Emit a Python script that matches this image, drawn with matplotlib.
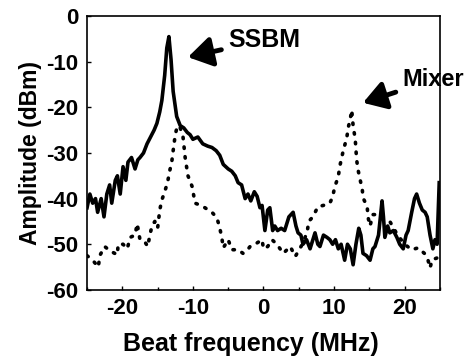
import matplotlib
matplotlib.use("Agg")
import matplotlib.pyplot as plt
from matplotlib.ticker import MultipleLocator

# ---- data ----
ssbm_f = [-25, -24.6, -24.2, -23.8, -23.5, -23.0, -22.6, -22.2, -21.8, -21.5, -21.0, -20.7,
          -20.3, -19.9, -19.5, -19.2, -18.7, -18.2, -17.8, -17.5, -17.0, -16.5, -16.0, -15.5,
          -15.1, -14.7, -14.4, -14.0, -13.7, -13.4, -13.1, -12.8, -12.3, -11.8, -11.3, -10.8,
          -10.4, -10.0, -9.3, -8.6, -7.9, -7.3, -6.7, -6.2, -5.7, -5.0, -4.5, -4.0, -3.6, -3.1,
          -2.6, -2.2, -1.8, -1.3, -0.9, -0.5, -0.2, 0.2, 0.6, 0.9, 1.3, 1.6, 2.0, 2.5, 3.0, 3.6,
          4.2, 4.6, 4.9, 5.3, 5.6, 6.1, 6.6, 7.0, 7.3, 7.7, 8.0, 8.5, 9.0, 9.4, 9.8, 10.2, 10.6,
          11.0, 11.5, 11.9, 12.3, 12.7, 13.1, 13.5, 13.8, 14.1, 14.6, 15.1, 15.5, 15.8, 16.3,
          16.8, 17.0, 17.2, 17.6, 17.9, 18.4, 18.9, 19.3, 19.8, 20.2, 20.5, 21.0, 21.4, 21.7,
          22.1, 22.5, 22.9, 23.2, 23.6, 24.0, 24.3, 24.6, 24.9]
ssbm_a = [-42, -39, -41, -40, -43, -40, -44, -39, -37, -41, -36, -35,
          -39, -33, -36, -32, -31, -33.5, -31.5, -31, -30, -28, -26.5, -25,
          -23.5, -21, -18.5, -13, -7, -4.5, -9.5, -16.5, -22, -24, -24.5, -25.5,
          -26, -27, -26.5, -28, -28.5, -28.8, -29.5, -30.5, -32.5, -33.5, -34, -35, -36.5, -37,
          -40, -39, -40.5, -38.5, -39.5, -42, -41.5, -47, -42.5, -42, -47, -46, -47, -46.5, -47, -44,
          -43, -46, -47.5, -48, -50, -49, -51, -49, -47.5, -50, -50.5, -48, -48.5, -49, -50, -49, -51,
          -50, -53.5, -50, -51, -54.5, -50, -46.5, -48, -52, -52.5, -53.5, -51, -50.5, -48,
          -40.5, -44, -48.5, -46, -47.5, -47, -48.5, -50, -51, -48, -47, -43, -40, -39,
          -41, -42.5, -43, -44, -48, -51, -49, -50, -36.5]

mixer_f = [-25, -24.2, -23.4, -23.2, -22.5, -21.7, -20.7, -20.6, -19.9, -19.3, -18.9, -18.2,
           -17.9, -17.5, -16.8, -16.4, -16.1, -15.8, -15.4, -15.0, -14.7, -14.4, -14.0, -13.6,
           -13.3, -13.0, -12.8, -12.5, -12.2, -11.8, -11.4, -11.1, -10.9, -10.7, -10.1, -9.9,
           -9.7, -9.0, -8.3, -7.3, -6.6, -6.2, -5.9, -5.7, -5.0, -4.5, -3.6, -2.9, -2.4, -1.9,
           -1.2, -0.2, 0.0, 0.6, 1.2, 1.9, 2.8, 3.8, 4.5, 5.5, 6.2, 6.4, 7.0, 7.7, 8.7, 9.4, 9.8,
           10.1, 10.6, 10.8, 11.3, 11.8, 12.0, 12.3, 12.5, 12.7, 13.0, 13.2, 13.4, 13.7, 14.0,
           14.1, 14.7, 14.8, 15.1, 15.5, 16.1, 17.0, 17.9, 19.0, 20.0, 21.0, 21.9, 22.8, 23.3,
           23.6, 23.9, 24.6, 25.0]
mixer_a = [-52.5, -53.5, -55, -52.5, -50.5, -51.5, -52.3, -50, -50, -51, -48.5, -48,
           -45.5, -49, -49.5, -50.5, -48, -46, -45, -46.5, -42.5, -40.3, -38.5, -36.5,
           -34, -32, -29.5, -26, -24, -24.5, -26.5, -31, -33, -35, -37.4, -39.2,
           -41, -41.4, -42, -43, -44.2, -46.4, -48.6, -50.8, -49, -51.2, -51.2, -52, -51.5, -50.5,
           -50, -49, -51, -50.5, -49, -50, -52, -50.5, -52.7, -50, -47.3, -45, -44, -41.8, -41.4, -41, -39.6,
           -37.4, -35.2, -33, -29.5, -26.7, -24.5, -22.5, -20.6, -24, -27, -31.5, -33.7, -35.9, -38,
           -39.8, -41.8, -44, -46, -43.5, -43.5, -44.5, -45, -48, -50, -51.2, -50.8, -52, -53.4,
           -55.2, -53.4, -53, -53]

x_ticks = [-20, -10, 0, 10, 20]
y_ticks = [0, -10, -20, -30, -40, -50, -60]

plt.rcParams['font.family'] = ['Liberation Sans', 'DejaVu Sans']
plt.rcParams['font.weight'] = 'bold'
plt.rcParams['axes.unicode_minus'] = False

fig = plt.figure(figsize=(4.68, 3.57), dpi=100)
ax = fig.add_axes([0.186, 0.188, 0.754, 0.767])

ax.plot(ssbm_f, ssbm_a, color='black', lw=2.6, solid_joinstyle='round')
ax.plot(mixer_f, mixer_a, color='black', lw=2.6, linestyle=(0, (0.4, 2.3)),
        dash_capstyle='round')

ax.set_xlim(-25, 25)
ax.set_ylim(-60, 0)
ax.set_xticks(x_ticks)
ax.set_yticks(y_ticks)
ax.xaxis.set_minor_locator(MultipleLocator(5))
ax.tick_params(direction='in', length=3, width=1, labelsize=16, pad=6)
ax.tick_params(which='minor', direction='in', length=2, width=1)
for lab in ax.get_xticklabels() + ax.get_yticklabels():
    lab.set_fontweight('bold')
for s in ax.spines.values():
    s.set_linewidth(1.2)

ax.set_xlabel('Beat frequency (MHz)', fontsize=18, fontweight='bold')
ax.xaxis.set_label_coords(0.465, -0.155)
ax.set_ylabel('Amplitude (dBm)', fontsize=16.5, fontweight='bold', labelpad=3)

ax.annotate('SSBM', xy=(-10.7, -9.0), xytext=(-5.0, -5.3), fontsize=18,
            fontweight='bold', va='center', ha='left',
            arrowprops=dict(arrowstyle='-|>,head_length=0.8,head_width=0.5',
                            color='black', lw=3.5, shrinkA=3, shrinkB=0))
ax.annotate('Mixer', xy=(14.1, -19.0), xytext=(19.7, -14.0), fontsize=17,
            fontweight='bold', va='center', ha='left', annotation_clip=False,
            arrowprops=dict(arrowstyle='-|>,head_length=0.8,head_width=0.5',
                            color='black', lw=3.5, shrinkA=3, shrinkB=0))

fig.savefig('out.png', dpi=100)
